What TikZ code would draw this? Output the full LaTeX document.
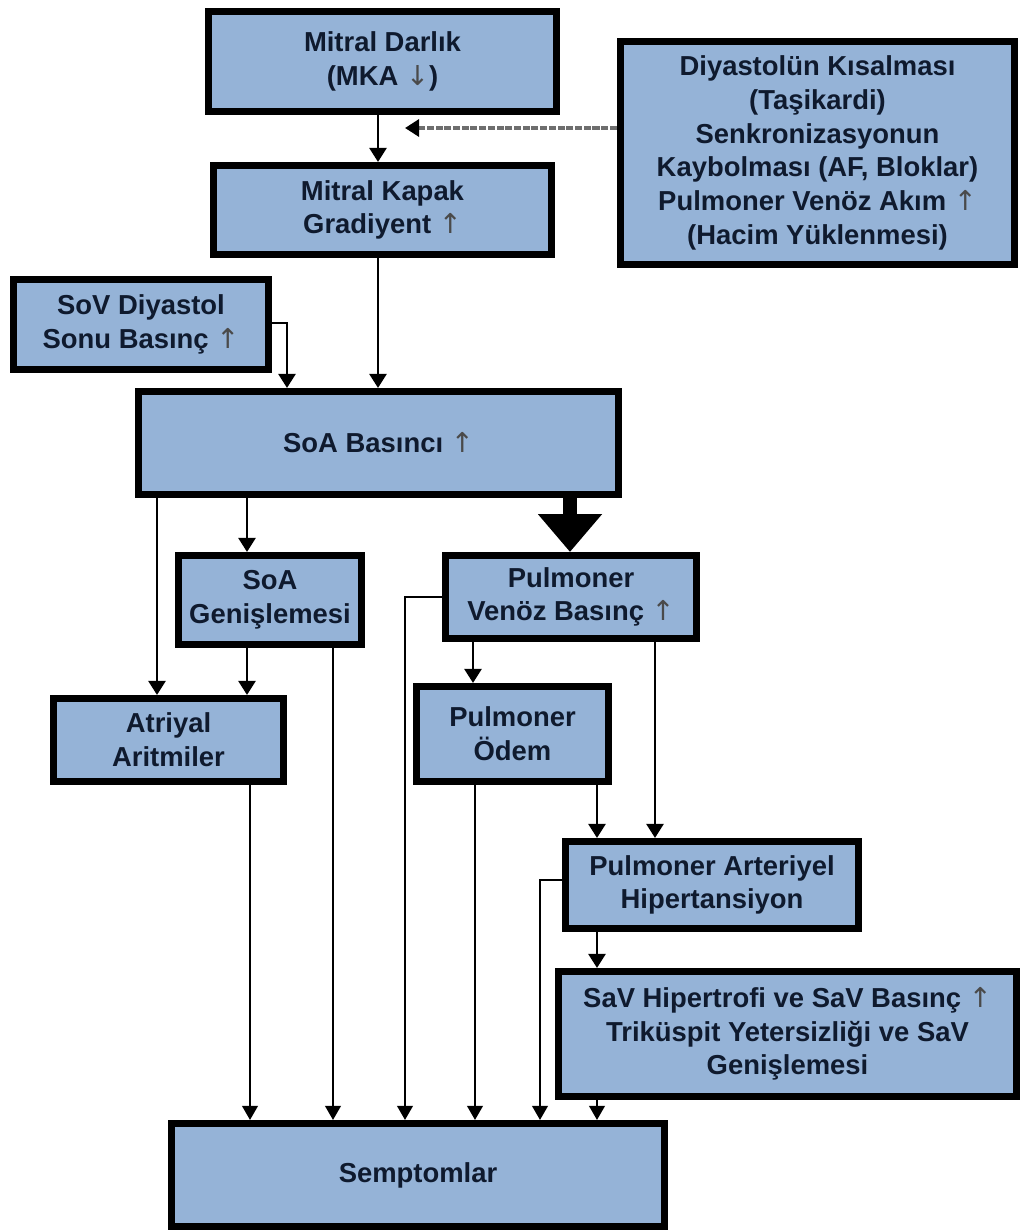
\documentclass[tikz,border=0pt]{standalone}
\usepackage{fontspec}
\setmainfont{Liberation Sans}
\newfontfamily\arrowfont{DejaVu Sans}
\usepackage{tikz}
\usetikzlibrary{arrows.meta}
\definecolor{boxblue}{HTML}{95B3D7}
\definecolor{boxtext}{HTML}{0F1A2E}
\definecolor{arrowgray}{HTML}{4A4A4A}
\newcommand{\uparr}{{\arrowfont\mdseries\color{arrowgray}↑}}
\newcommand{\dnarr}{{\arrowfont\mdseries\color{arrowgray}↓}}

\begin{document}
\begin{tikzpicture}[x=0.025cm, y=-0.025cm,
    box/.style={rectangle, draw=black, line width=5pt, fill=boxblue, align=center,
                text=boxtext, inner sep=0pt,
                font=\fontsize{19.5}{24}\selectfont\bfseries},
    arr/.style={line width=2.1pt, -{Triangle[width=12pt,length=10pt]}},
    feed/.style={line width=1.7pt, -{Triangle[width=11pt,length=10pt]}},
]
\fill[white] (0,0) rectangle (1022,1232);
\useasboundingbox (0,0) rectangle (1022,1232);

% Boxes
\node[box, minimum width=8.7cm, minimum height=2.5cm] (mkdarlik) at (382.5,61.5) {Mitral Darlık\\(MKA \dnarr)};
\node[box, minimum width=8.45cm, minimum height=2.225cm] (mkgrad) at (382.5,210) {Mitral Kapak\\Gradiyent \uparr};
\node[box, minimum width=9.85cm, minimum height=5.575cm] (diyastol) at (817.5,153)
    {Diyastolün Kısalması\\(Taşikardi)\\Senkronizasyonun\\Kaybolması (AF, Bloklar)\\Pulmoner Venöz Akım \uparr\\(Hacim Yüklenmesi)};
\node[box, minimum width=6.375cm, minimum height=2.25cm] (sovbasinc) at (141,324.5) {SoV Diyastol\\Sonu Basınç \uparr};
\node[box, minimum width=12cm, minimum height=2.575cm] (soabasinc) at (378.5,443) {SoA Basıncı \uparr};
\node[box, minimum width=4.575cm, minimum height=2.225cm] (soagenis) at (270,600) {SoA\\Genişlemesi};
\node[box, minimum width=6.275cm, minimum height=2.075cm] (pvenoz) at (571,597) {Pulmoner\\Venöz Basınç \uparr};
\node[box, minimum width=5.75cm, minimum height=2.075cm] (atriyal) at (168.5,740) {Atriyal\\Aritmiler};
\node[box, minimum width=4.8cm, minimum height=2.375cm] (podem) at (512.5,734) {Pulmoner\\Ödem};
\node[box, minimum width=7.325cm, minimum height=2.175cm] (pah) at (712,885) {Pulmoner Arteriyel\\Hipertansiyon};
\node[box, minimum width=11.45cm, minimum height=3.125cm] (savhip) at (787.5,1034)
    {SaV Hipertrofi ve SaV Basınç \uparr\\Triküspit Yetersizliği ve SaV\\Genişlemesi};
\node[box, minimum width=12.325cm, minimum height=2.575cm] (semptom) at (418,1175) {Semptomlar};

% Arrows
\coordinate (dtip) at (405,128);
\draw[arrowgray!80, line width=2.6pt, dash pattern=on 5pt off 1.2pt,
      -{Triangle[width=12pt,length=10pt,color=black]}] (diyastol.west |- dtip) -- (dtip);

\foreach \a/\b/\x in {mkdarlik/mkgrad/378, mkgrad/soabasinc/378, soabasinc/atriyal/157,
    soabasinc/soagenis/247, soagenis/atriyal/247, pvenoz/podem/473, pvenoz/pah/655,
    podem/pah/597, pah/savhip/597}
    \draw[arr] (\a.south -| \x,0) -- (\b.north -| \x,0);

\draw[arr] (sovbasinc.east |- 0,323) -| (soabasinc.north -| 287,0);
\draw[line width=10pt, -{Triangle[width=44pt,length=27pt]}] (soabasinc.south -| 570,0) -- (pvenoz.north -| 570,0);

% Into Semptomlar
\foreach \a/\x in {atriyal/250, soagenis/333, podem/475, savhip/597}
    \draw[feed] (\a.south -| \x,0) -- (semptom.north -| \x,0);
\draw[feed] (pvenoz.west |- 0,597) -| (semptom.north -| 405,0);
\draw[feed] (pah.west |- 0,880) -| (semptom.north -| 540,0);
\end{tikzpicture}
\end{document}
